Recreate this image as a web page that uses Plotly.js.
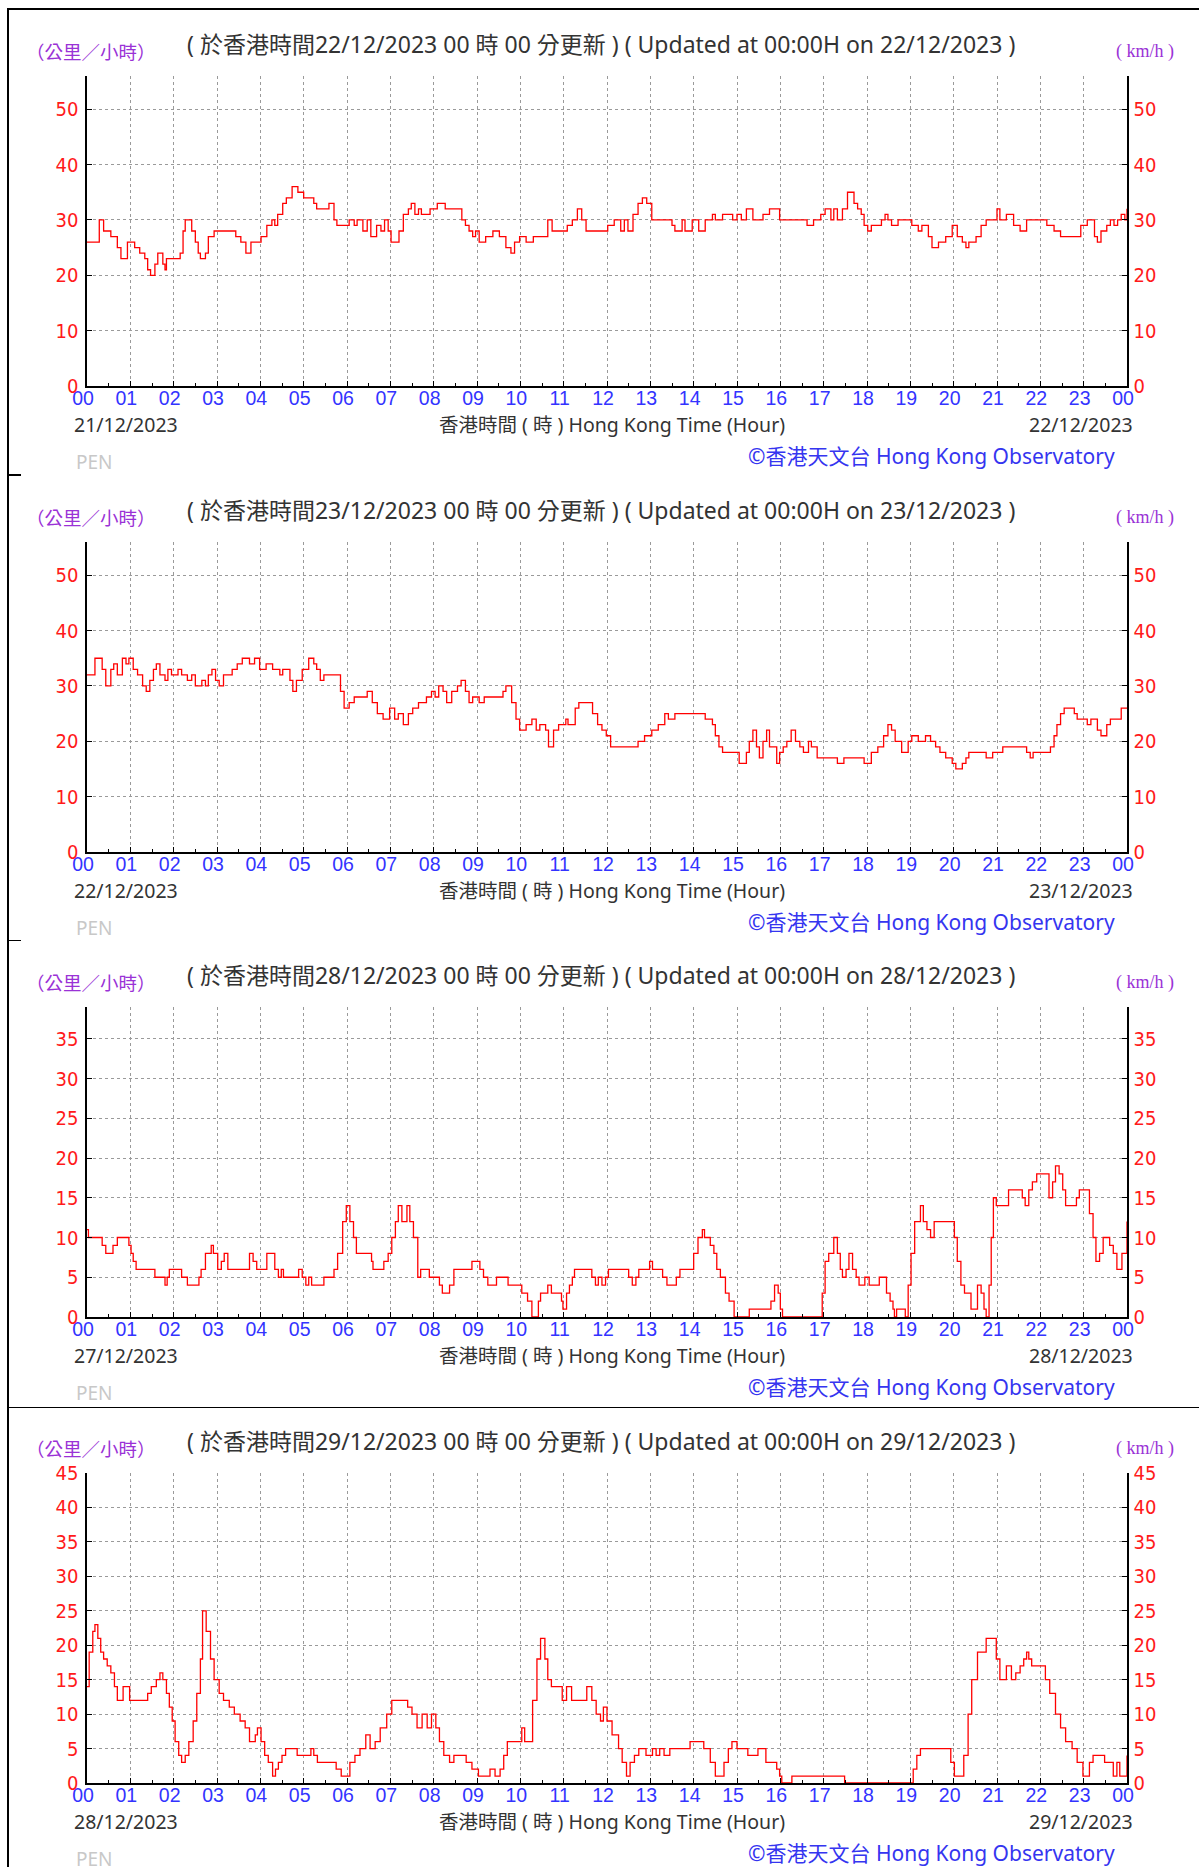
<!DOCTYPE html>
<html><head><meta charset="utf-8">
<script src="https://cdn.plot.ly/plotly-3.0.1.min.js"></script>
<style>
html,body{margin:0;padding:0;background:#fff;}
#page{position:relative;width:1199px;height:1867px;overflow:hidden;background:#fff;}
.panel{position:absolute;left:0;width:1199px;height:482px;}
.ln{position:absolute;background:#000;}
</style></head><body>
<div id="page">
<div class="panel" id="p0" style="top:0px"></div>
<div class="panel" id="p1" style="top:465.5px"></div>
<div class="panel" id="p2" style="top:930.5px"></div>
<div class="panel" id="p3" style="top:1396.5px"></div>
<div class="ln" style="left:7px;top:8px;width:1.5px;height:1859px"></div>
<div class="ln" style="left:7px;top:8px;width:1192px;height:1.5px"></div>
<div class="ln" style="left:7px;top:474px;width:14px;height:1.5px"></div>
<div class="ln" style="left:7px;top:939.5px;width:14px;height:1.5px"></div>
<div class="ln" style="left:7px;top:1406.5px;width:1192px;height:1.5px"></div>
</div>
<script>
// ---------- data ----------
const hourLabels = ['00','01','02','03','04','05','06','07','08','09','10','11','12','13','14','15','16','17','18','19','20','21','22','23','00'];

const updateDates = ['22/12/2023','23/12/2023','28/12/2023','29/12/2023'];
const startDates  = ['21/12/2023','22/12/2023','27/12/2023','28/12/2023'];
const endDates    = ['22/12/2023','23/12/2023','28/12/2023','29/12/2023'];
const axisMax     = [56, 56, 39, 45];
const axisStep    = [10, 10, 5, 5];

// [minutes after 00:00, wind speed km/h]
const wind1 = [[0,26],[17,30],[23,28],[33,27],[42,25],[47,23],[56,26],[66,25],[73,24],[80,23],[84,21],[88,20],[94,22],[98,24],[105,22],[108,21],[110,23],[129,24],[133,28],[136,30],[145,28],[150,26],[154,24],[157,23],[164,24],[168,27],[176,28],[206,27],[213,26],[220,24],[227,26],[241,27],[249,29],[256,30],[260,29],[264,31],[271,33],[276,34],[284,36],[292,35],[300,34],[314,33],[318,32],[335,33],[342,30],[346,29],[363,30],[370,29],[374,30],[382,28],[388,30],[393,27],[401,29],[407,28],[412,30],[417,28],[421,26],[432,28],[438,31],[445,32],[449,33],[454,31],[459,32],[463,31],[475,32],[485,33],[496,32],[519,30],[524,29],[529,28],[534,27],[538,28],[543,26],[552,27],[562,28],[571,27],[580,25],[587,24],[592,26],[599,27],[608,26],[618,27],[638,30],[644,28],[665,29],[672,30],[679,32],[685,30],[691,28],[721,29],[730,30],[739,28],[744,30],[749,28],[756,31],[763,33],[769,34],[775,33],[782,30],[810,29],[814,28],[824,30],[828,28],[838,30],[847,28],[856,30],[866,31],[870,30],[880,31],[894,30],[900,31],[906,30],[913,32],[922,30],[936,31],[945,32],[959,30],[997,29],[1006,30],[1016,31],[1022,32],[1030,30],[1034,32],[1039,30],[1046,32],[1053,35],[1062,33],[1067,32],[1072,31],[1076,29],[1081,28],[1086,29],[1100,30],[1105,31],[1109,30],[1114,29],[1123,30],[1142,29],[1151,28],[1156,29],[1165,27],[1170,25],[1179,26],[1189,27],[1198,29],[1205,27],[1212,26],[1217,25],[1221,26],[1231,27],[1238,29],[1245,30],[1260,32],[1264,30],[1273,31],[1283,29],[1292,28],[1301,30],[1329,29],[1339,28],[1348,27],[1376,29],[1385,30],[1395,27],[1399,26],[1404,28],[1412,29],[1417,30],[1422,29],[1427,30],[1432,31],[1437,30],[1440,32]];

const wind2 = [[0,32],[11,35],[21,33],[26,30],[33,33],[37,34],[42,32],[49,35],[54,34],[58,35],[64,33],[70,32],[77,30],[82,29],[87,31],[92,33],[96,34],[101,32],[108,31],[112,33],[117,32],[126,33],[131,32],[139,31],[145,32],[150,30],[159,31],[164,30],[168,32],[173,33],[178,31],[183,30],[189,32],[201,33],[208,34],[215,35],[225,34],[232,35],[239,33],[248,34],[257,33],[267,32],[271,33],[281,31],[285,29],[290,31],[298,33],[307,35],[314,34],[318,33],[323,31],[328,32],[351,29],[356,26],[363,27],[370,28],[388,29],[395,27],[402,25],[410,24],[419,26],[426,24],[431,25],[438,23],[445,25],[451,26],[459,27],[470,28],[477,29],[482,28],[487,30],[493,29],[498,27],[505,29],[513,30],[518,31],[524,29],[529,27],[534,28],[543,27],[550,28],[576,29],[580,30],[588,27],[594,24],[599,22],[608,23],[616,24],[622,22],[627,23],[635,22],[639,19],[646,22],[653,23],[663,24],[666,23],[676,26],[681,27],[700,25],[707,23],[713,22],[719,21],[725,19],[763,20],[772,21],[782,22],[791,23],[800,25],[805,24],[814,25],[856,24],[866,23],[870,21],[875,19],[880,18],[903,16],[913,18],[917,20],[922,22],[927,19],[931,17],[936,20],[941,22],[945,19],[955,16],[959,18],[964,19],[969,20],[975,22],[981,20],[987,19],[992,18],[999,20],[1003,19],[1011,17],[1039,16],[1048,17],[1076,16],[1086,18],[1095,19],[1103,21],[1109,23],[1114,22],[1119,20],[1128,18],[1137,20],[1142,21],[1151,20],[1161,21],[1168,20],[1175,19],[1181,18],[1189,17],[1198,16],[1203,15],[1212,16],[1217,17],[1221,18],[1245,17],[1254,18],[1268,19],[1301,18],[1306,17],[1310,18],[1334,19],[1339,21],[1343,23],[1348,25],[1353,26],[1367,25],[1371,24],[1385,23],[1390,24],[1399,22],[1404,21],[1412,23],[1417,24],[1432,26],[1440,26]];

const wind3 = [[0,11],[2,10],[21,9],[26,8],[36,9],[42,10],[58,9],[61,8],[64,7],[68,6],[94,5],[108,4],[111,5],[114,6],[131,5],[139,4],[155,5],[158,6],[164,8],[172,9],[175,8],[181,6],[186,7],[190,8],[195,6],[225,8],[230,7],[235,6],[249,8],[260,6],[265,5],[269,6],[272,5],[293,6],[298,5],[303,4],[307,5],[311,4],[328,5],[342,6],[347,8],[354,12],[359,14],[364,12],[369,10],[373,8],[394,7],[396,6],[411,7],[417,8],[422,10],[427,12],[431,14],[436,12],[443,14],[447,12],[452,10],[458,5],[462,6],[474,5],[488,4],[492,3],[502,4],[508,6],[533,7],[544,6],[549,5],[555,4],[567,5],[583,4],[602,3],[610,2],[616,0],[625,2],[628,3],[638,4],[643,3],[657,2],[659,1],[664,3],[668,4],[672,5],[675,6],[699,5],[704,4],[708,5],[713,4],[718,5],[722,6],[750,5],[755,4],[760,5],[764,6],[779,7],[783,6],[797,5],[803,4],[816,5],[821,6],[840,8],[846,10],[852,11],[855,10],[863,9],[868,8],[872,6],[877,5],[884,3],[889,2],[896,0],[917,1],[947,2],[952,4],[957,3],[960,1],[963,0],[1018,3],[1022,7],[1027,8],[1034,10],[1039,8],[1043,6],[1046,5],[1051,6],[1055,8],[1060,6],[1065,5],[1069,4],[1077,5],[1083,4],[1097,5],[1107,3],[1112,2],[1116,1],[1118,0],[1121,1],[1133,0],[1137,4],[1141,8],[1146,12],[1154,14],[1158,12],[1163,11],[1168,10],[1173,12],[1201,10],[1205,7],[1210,4],[1215,3],[1224,1],[1233,4],[1238,3],[1242,1],[1245,0],[1249,4],[1252,10],[1255,15],[1259,14],[1276,16],[1295,15],[1299,14],[1304,16],[1309,17],[1315,18],[1332,15],[1337,17],[1341,19],[1346,18],[1351,16],[1355,14],[1370,15],[1374,16],[1388,13],[1393,10],[1397,7],[1402,8],[1407,10],[1416,9],[1421,8],[1426,6],[1433,8],[1440,12]];

const wind4 = [[0,14],[3,19],[8,22],[11,23],[15,21],[19,19],[23,18],[28,17],[33,16],[38,14],[42,12],[50,14],[59,12],[84,13],[89,14],[96,15],[101,16],[105,15],[110,13],[114,11],[118,9],[122,6],[127,4],[131,3],[136,4],[141,6],[147,9],[152,13],[157,18],[160,25],[165,22],[171,18],[176,15],[183,13],[189,12],[197,11],[204,10],[212,9],[219,8],[225,6],[233,7],[236,8],[241,6],[246,4],[251,3],[257,1],[261,2],[265,3],[270,4],[275,5],[291,4],[310,5],[314,4],[319,3],[345,2],[352,1],[364,3],[371,4],[378,5],[386,7],[392,5],[399,6],[406,8],[415,10],[422,12],[444,11],[450,10],[457,8],[464,10],[471,8],[477,10],[483,8],[488,6],[494,4],[502,3],[508,4],[525,3],[533,2],[542,1],[558,2],[565,1],[572,2],[577,4],[582,6],[602,8],[606,6],[617,12],[623,18],[628,21],[634,18],[638,15],[643,14],[658,12],[664,14],[671,12],[692,14],[699,12],[705,10],[711,9],[715,11],[720,9],[727,7],[736,5],[741,3],[747,1],[752,3],[758,4],[764,5],[774,4],[783,5],[788,4],[793,5],[799,4],[807,5],[835,6],[854,5],[863,3],[870,1],[882,3],[888,5],[893,6],[900,5],[915,4],[929,5],[940,3],[955,2],[959,1],[962,0],[976,1],[1049,0],[1144,2],[1149,4],[1154,5],[1196,3],[1201,1],[1214,4],[1220,10],[1225,15],[1233,19],[1245,21],[1259,18],[1264,15],[1273,17],[1280,15],[1286,16],[1292,17],[1297,18],[1301,19],[1304,18],[1308,17],[1327,15],[1333,13],[1341,10],[1348,8],[1355,6],[1364,5],[1371,3],[1379,1],[1388,3],[1393,4],[1409,3],[1421,1],[1426,3],[1430,1],[1440,4]];

const windSeries = [wind1, wind2, wind3, wind4];

// ---------- drawing ----------
const FIG_H = 482;
const PL = 87, PR = 1127, PT = 76, PB = 386;      // plot box inside each panel (px)
const PW = PR - PL, PH = PB - PT;
const LATIN = 'Noto Sans, Noto Sans CJK TC, sans-serif';
const CJK = 'Noto Sans CJK TC, Noto Sans, sans-serif';
const NARROW = 'Liberation Sans Narrow, Arial Narrow, DejaVu Sans Condensed, Roboto Condensed, Liberation Sans, sans-serif';

function ann(text, px, py, xanchor, font) {
  return {text: text, xref: 'paper', yref: 'paper', x: (px - PL) / PW, y: (PB - py) / PH,
          xanchor: xanchor, yanchor: 'middle', showarrow: false, font: font};
}

const hourVals = hourLabels.map((_, i) => i);
const halfVals = hourLabels.slice(1).map((_, i) => i + 0.5);

function yAxis(i, side) {
  const ax = {
    range: [0, axisMax[i]], tickmode: 'linear', tick0: 0, dtick: axisStep[i],
    ticks: 'inside', ticklen: 5, tickwidth: 1, tickcolor: '#000',
    showline: true, linecolor: '#000', linewidth: 1.6,
    tickfont: {family: NARROW, size: 20, color: '#ff1a1a'},
    zeroline: false, fixedrange: true, ticklabelstandoff: 3
  };
  if (side === 'left') {
    ax.showgrid = true; ax.gridcolor = '#9a9a9a'; ax.griddash = 'dot'; ax.gridwidth = 1;
  } else {
    ax.overlaying = 'y'; ax.side = 'right'; ax.showgrid = false; ax.ticklabelstandoff = 1;
  }
  return ax;
}

function drawPanel(i) {
  const pts = windSeries[i];
  const trace = {
    x: pts.map(p => p[0] / 60), y: pts.map(p => p[1]),
    type: 'scatter', mode: 'lines', line: {shape: 'hv', color: '#ff0000', width: 1.3},
    hoverinfo: 'skip', showlegend: false
  };
  const dummy = {x: [null], y: [null], yaxis: 'y2', type: 'scatter', mode: 'lines', showlegend: false, hoverinfo: 'skip'};
  const title = '( 於香港時間' + updateDates[i] + ' 00 時 00 分更新 ) ( Updated at 00:00H on ' + updateDates[i] + ' )';
  const layout = {
    width: 1199, height: FIG_H,
    margin: {l: PL, r: 1199 - PR, t: PT, b: FIG_H - PB, pad: 0},
    paper_bgcolor: 'rgba(0,0,0,0)', plot_bgcolor: 'rgba(0,0,0,0)',
    showlegend: false,
    xaxis: {
      range: [0, 24], tickmode: 'array', tickvals: hourVals, ticktext: hourLabels,
      ticks: 'inside', ticklen: 5, tickwidth: 1, tickcolor: '#000',
      showline: true, linecolor: '#000', linewidth: 1.6,
      showgrid: true, gridcolor: '#9a9a9a', griddash: 'dot', gridwidth: 1,
      tickfont: {family: 'Liberation Sans, Arial, sans-serif', size: 19.5, color: '#3333ff'},
      ticklabelshift: -4, ticklabelstandoff: -6, zeroline: false, fixedrange: true,
      minor: {tickmode: 'array', tickvals: halfVals, ticks: 'inside', ticklen: 3, tickcolor: '#000', showgrid: false}
    },
    yaxis: yAxis(i, 'left'),
    yaxis2: yAxis(i, 'right'),
    annotations: [
      ann(title, 601, 44, 'center', {family: LATIN, size: 23, color: '#333'}),
      ann('（公里／小時）', 24, 51, 'left', {family: CJK, size: 18.5, color: '#9a32d6'}),
      ann('( km/h )', 1114, 51, 'left', {family: 'Liberation Serif, DejaVu Serif, serif', size: 18, color: '#9a32d6'}),
      ann(startDates[i], 72, 424, 'left', {family: LATIN, size: 19.5, color: '#333'}),
      ann('香港時間 ( 時 ) Hong Kong Time (Hour)', 612, 424, 'center', {family: LATIN, size: 19.5, color: '#333'}),
      ann(endDates[i], 1135, 424, 'right', {family: LATIN, size: 19.5, color: '#333'}),
      ann('PEN', 74, 462, 'left', {family: LATIN, size: 19, color: '#c8c8c8'}),
      ann('©香港天文台 Hong Kong Observatory', 1117, 456, 'right', {family: LATIN, size: 21, color: '#3535f0'})
    ]
  };
  Plotly.newPlot('p' + i, [trace, dummy], layout, {staticPlot: true, displayModeBar: false});
}

for (let i = 0; i < 4; i++) drawPanel(i);
</script>
</body></html>
